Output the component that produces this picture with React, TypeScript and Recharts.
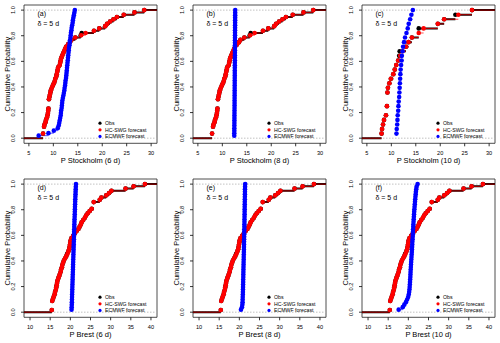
import React from "react";
import {
  ComposedChart,
  Line,
  Scatter,
  XAxis,
  YAxis,
  ReferenceLine,
  ReferenceArea,
} from "recharts";

const FONT = '"Liberation Sans", Arial, Helvetica, sans-serif';

const panelIds = ["(a)", "(b)", "(c)", "(d)", "(e)", "(f)"];
const xTitles = [
  "P Stockholm (6 d)",
  "P Stockholm (8 d)",
  "P Stockholm (10 d)",
  "P Brest (6 d)",
  "P Brest (8 d)",
  "P Brest (10 d)",
];
const deltaLabel = "δ = 5 d";
const legendNames = ["Obs", "HC-SWG forecast", "ECMWF forecast"];
const stockholmTicks = [5, 10, 15, 20, 25, 30];
const brestTicks = [10, 15, 20, 25, 30, 35, 40];
const probTicks = [0, 0.2, 0.4, 0.6, 0.8, 1];
const stockholmDomain = [4.0, 31.2];
const brestDomain = [8.5, 41.5];

// samples (precipitation, mm)
const hcStockholm = [
  7.9, 7.9, 8.1, 8.1, 8.1, 8.2, 8.4, 8.5, 8.7, 8.8,
  8.9, 8.95, 9.0, 9.1, 9.1, 9.1, 9.1, 9.2, 9.3, 9.4,
  9.5, 9.7, 9.9, 10.1, 10.3, 10.4, 10.6, 10.7, 10.8, 10.9,
  11.0, 11.3, 11.4, 11.5, 11.6, 11.8, 12.0, 12.2, 12.4, 12.6,
  13.0, 13.4, 13.7, 14.5, 15.7, 16.6, 18.3, 19.4, 20.6, 21.0,
  21.6, 22.3, 23.0, 24.4, 26.6, 28.6,
];
const obsStockholm = [
  7.9, 7.9, 8.1, 8.1, 8.1, 8.2, 8.4, 8.5, 8.7, 8.8,
  8.9, 8.95, 9.0, 9.1, 9.1, 9.1, 9.1, 9.2, 9.3, 9.4,
  9.5, 9.7, 9.9, 10.1, 10.3, 10.4, 10.6, 10.7, 10.8, 10.9,
  11.0, 11.3, 11.4, 11.5, 11.6, 11.8, 12.0, 12.2, 12.4, 12.6,
  13.0, 13.4, 13.7, 14.5, 15.6, 15.8, 18.3, 19.4, 20.6, 21.0,
  21.6, 22.3, 23.0, 24.4, 26.6, 28.6,
];
const ecmwfStockholm6 = [
  7.0, 9.0, 10.1, 10.9, 11.1, 11.2, 11.3, 11.4, 11.5, 11.55,
  11.6, 11.7, 11.75, 11.8, 11.85, 11.95, 12.05, 12.15, 12.25, 12.3,
  12.4, 12.45, 12.5, 12.6, 12.65, 12.7, 12.75, 12.8, 12.85, 12.9,
  12.95, 13.0, 13.05, 13.1, 13.15, 13.2, 13.3, 13.35, 13.4, 13.5,
  13.55, 13.6, 13.7, 13.75, 13.85, 13.95, 14.0, 14.1, 14.2, 14.3,
  14.4,
];
const ecmwfStockholm8 = [
  12.44, 12.445, 12.45, 12.455, 12.46, 12.465, 12.47, 12.475, 12.48, 12.485,
  12.49, 12.495, 12.5, 12.503, 12.506, 12.51, 12.513, 12.516, 12.52, 12.523,
  12.526, 12.53, 12.533, 12.536, 12.54, 12.543, 12.546, 12.55, 12.553, 12.556,
  12.56, 12.563, 12.566, 12.57, 12.573, 12.576, 12.58, 12.583, 12.586, 12.59,
  12.593, 12.596, 12.6, 12.604, 12.608, 12.612, 12.616, 12.62, 12.625, 12.63,
  12.64,
];
const hcStockholm10 = [
  8.0, 8.1, 8.3, 8.5, 8.9, 9.1, 9.1, 9.2, 9.2, 9.2,
  9.3, 9.6, 9.9, 10.4, 10.7, 11.0, 11.4, 11.8, 12.3, 13.0,
  13.5, 14.2, 15.6, 16.6, 19.5, 20.8, 23.7, 26.5,
];
const obsStockholm10 = [
  8.0, 8.1, 8.3, 8.5, 8.9, 9.1, 9.1, 9.2, 9.2, 9.2,
  9.3, 9.6, 9.9, 10.4, 10.7, 11.0, 11.4, 11.6, 11.7, 13.0,
  13.5, 14.2, 15.6, 15.6, 19.5, 20.8, 23.1, 26.5,
];
const ecmwfStockholm10 = [
  11.05, 11.1, 11.2, 11.25, 11.3, 11.4, 11.45, 11.5, 11.6, 11.65,
  11.7, 11.75, 11.8, 11.85, 11.9, 12.0, 12.1, 12.15, 12.3, 12.4,
  12.6, 12.8, 13.1, 13.35, 13.55, 13.85, 14.1, 14.4,
];
const hcBrest = [
  15.4, 15.5, 15.5, 15.5, 15.5, 15.7, 15.9, 16.1, 16.2, 16.4,
  16.5, 16.6, 16.7, 16.8, 17.0, 17.2, 17.4, 17.6, 17.7, 17.9,
  18.0, 18.2, 18.4, 18.7, 19.0, 19.3, 19.5, 19.7, 19.8, 19.9,
  20.0, 20.1, 20.3, 20.7, 21.1, 21.5, 22.0, 22.3, 22.6, 22.8,
  23.2, 23.6, 23.9, 24.3, 24.8, 25.3, 25.8, 25.8, 25.8, 27.3,
  27.7, 28.9, 29.6, 30.2, 33.7, 35.7, 38.5,
];
const obsBrest = [
  15.4, 15.5, 15.5, 15.5, 15.5, 15.7, 15.9, 16.1, 16.2, 16.4,
  16.5, 16.6, 16.7, 16.8, 17.0, 17.2, 17.4, 17.6, 17.7, 17.9,
  18.0, 18.2, 18.4, 18.7, 19.0, 19.2, 19.5, 19.7, 19.8, 19.9,
  20.0, 20.1, 20.3, 20.7, 21.1, 21.5, 22.0, 22.3, 22.6, 22.8,
  23.2, 23.6, 23.9, 24.3, 24.8, 25.3, 25.8, 25.8, 25.8, 27.3,
  27.7, 28.9, 29.6, 30.2, 33.7, 35.7, 38.5,
];
const ecmwfBrest6 = [
  20.3, 20.33, 20.36, 20.38, 20.4, 20.42, 20.44, 20.46, 20.48, 20.5,
  20.52, 20.54, 20.56, 20.58, 20.6, 20.62, 20.64, 20.66, 20.68, 20.7,
  20.72, 20.74, 20.76, 20.78, 20.8, 20.82, 20.84, 20.86, 20.88, 20.9,
  20.92, 20.94, 20.96, 20.98, 21.0, 21.02, 21.04, 21.07, 21.09, 21.11,
  21.13, 21.15, 21.18, 21.2, 21.22, 21.25, 21.28, 21.3, 21.33, 21.36,
  21.4,
];
const ecmwfBrest8 = [
  20.4, 20.65, 20.75, 20.8, 20.82, 20.84, 20.86, 20.88, 20.9, 20.92,
  20.93, 20.95, 20.96, 20.98, 20.99, 21.0, 21.02, 21.03, 21.05, 21.06,
  21.08, 21.09, 21.1, 21.12, 21.13, 21.14, 21.16, 21.17, 21.18, 21.2,
  21.21, 21.22, 21.23, 21.25, 21.26, 21.27, 21.28, 21.29, 21.3, 21.31,
  21.32, 21.33, 21.34, 21.35, 21.36, 21.37, 21.38, 21.39, 21.4, 21.42,
  21.45,
];
const ecmwfBrest10 = [
  17.6, 18.6, 19.0, 19.4, 19.7, 19.95, 20.1, 20.2, 20.28, 20.33,
  20.37, 20.41, 20.45, 20.49, 20.52, 20.55, 20.58, 20.62, 20.66, 20.7,
  20.74, 20.78, 20.82, 20.86, 20.9, 20.93, 20.97, 21.0, 21.04, 21.08,
  21.11, 21.15, 21.18, 21.22, 21.25, 21.29, 21.33, 21.37, 21.41, 21.45,
  21.5, 21.55, 21.6, 21.65, 21.7, 21.76, 21.82, 21.88, 21.96, 22.05,
  22.3,
];

const OBS = "#000000";
const HC = "#ff0000";
const EC = "#0000ff";
const legendColors = [OBS, HC, EC];

const panels = [
  { id: panelIds[0], title: xTitles[0], obs: obsStockholm, hc: hcStockholm, ec: ecmwfStockholm6, ticks: stockholmTicks, domain: stockholmDomain },
  { id: panelIds[1], title: xTitles[1], obs: obsStockholm, hc: hcStockholm, ec: ecmwfStockholm8, ticks: stockholmTicks, domain: stockholmDomain },
  { id: panelIds[2], title: xTitles[2], obs: obsStockholm10, hc: hcStockholm10, ec: ecmwfStockholm10, ticks: stockholmTicks, domain: stockholmDomain },
  { id: panelIds[3], title: xTitles[3], obs: obsBrest, hc: hcBrest, ec: ecmwfBrest6, ticks: brestTicks, domain: brestDomain },
  { id: panelIds[4], title: xTitles[4], obs: obsBrest, hc: hcBrest, ec: ecmwfBrest8, ticks: brestTicks, domain: brestDomain },
  { id: panelIds[5], title: xTitles[5], obs: obsBrest, hc: hcBrest, ec: ecmwfBrest10, ticks: brestTicks, domain: brestDomain },
];

// panel geometry
const W = 169;
const H = 172;
const ROW_GAP = 174;
const PLOT_LEFT = 24;
const PLOT_TOP = 5;
const PLOT_W = 133;
const PLOT_H = 138.3;

type Pt = { x: number; y: number | null };

// empirical CDF: one point per distinct value, at F(x)
function ecdf(values: number[]): Pt[] {
  const sorted = [...values].sort((a, b) => a - b);
  const n = sorted.length;
  const pts: Pt[] = [];
  sorted.forEach((v, i) => {
    if (i < n - 1 && sorted[i + 1] === v) return;
    pts.push({ x: v, y: (i + 1) / n });
  });
  return pts;
}

// horizontal ECDF segments, separated by null gaps
function steps(pts: Pt[], xMin: number, xMax: number, extend: boolean): Pt[] {
  const out: Pt[] = [];
  if (extend) out.push({ x: xMin, y: 0 }, { x: pts[0].x, y: 0 }, { x: pts[0].x, y: null });
  pts.forEach((p, k) => {
    const next = k < pts.length - 1 ? pts[k + 1].x : extend ? xMax : null;
    if (next === null) return;
    out.push({ x: p.x, y: p.y }, { x: next, y: p.y }, { x: next, y: null });
  });
  return out;
}

const dot = (color: string) => (props: any) =>
  <circle cx={props.cx} cy={props.cy} r={2.3} fill={color} />;

const XTick = (props: any) => {
  const { x, y, payload } = props;
  return (
    <text x={x} y={y} dy={6.5} textAnchor="middle" fontSize={5.6} fontFamily={FONT} fill="#000">
      {payload.value}
    </text>
  );
};

const YTick = (props: any) => {
  const { x, y, payload } = props;
  return (
    <text transform={`translate(${x},${y}) rotate(-90)`} textAnchor="middle" fontSize={5.6} fontFamily={FONT} fill="#000">
      {Number(payload.value).toFixed(1)}
    </text>
  );
};

const YTitle = () => (
  <text
    transform={`translate(9.7,${PLOT_TOP + PLOT_H / 2}) rotate(-90)`}
    textAnchor="middle"
    fontSize={7.5}
    fontFamily={FONT}
    fill="#000"
  >
    Cumulative Probability
  </text>
);

function Panel({ p, left, top }: { p: (typeof panels)[number]; left: number; top: number }) {
  const [x0, x1] = p.domain;
  const obsPts = ecdf(p.obs);
  const hcPts = ecdf(p.hc);
  const ecPts = ecdf(p.ec);
  const legendY = [123.2, 129.8, 136.4];

  return (
    <div style={{ position: "absolute", left, top, width: W, height: H }}>
      <ComposedChart width={W} height={H} margin={{ top: PLOT_TOP, right: W - PLOT_LEFT - PLOT_W, bottom: 0, left: 0 }}>
        <XAxis
          dataKey="x"
          type="number"
          domain={[x0, x1]}
          allowDataOverflow
          ticks={p.ticks}
          interval={0}
          axisLine={false}
          tickSize={3}
          tickMargin={2}
          tickLine={{ stroke: "#000", strokeWidth: 0.8 }}
          tick={<XTick />}
          height={H - PLOT_TOP - PLOT_H}
          label={{ value: p.title, position: "insideBottom", offset: 9.3, fontSize: 7.5, fill: "#000", fontFamily: FONT }}
        />
        <YAxis
          dataKey="y"
          type="number"
          domain={[-0.04, 1.04]}
          allowDataOverflow
          ticks={probTicks}
          interval={0}
          axisLine={false}
          tickSize={3}
          tickMargin={5.6}
          tickLine={{ stroke: "#000", strokeWidth: 0.8 }}
          tick={<YTick />}
          width={PLOT_LEFT}
          label={<YTitle />}
        />
        <ReferenceLine y={0} stroke="#b3b3b3" strokeDasharray="1.5 1.5" strokeWidth={0.8} />
        <ReferenceLine y={1} stroke="#b3b3b3" strokeDasharray="1.5 1.5" strokeWidth={0.8} />

        <Line data={steps(obsPts, x0, x1, true)} dataKey="y" stroke={OBS} strokeWidth={2} dot={false} activeDot={false} connectNulls={false} isAnimationActive={false} />
        <Scatter data={obsPts} shape={dot(OBS)} isAnimationActive={false} />

        <Line data={steps(hcPts, x0, x1, true)} dataKey="y" stroke={HC} strokeWidth={0.7} dot={false} activeDot={false} connectNulls={false} isAnimationActive={false} />
        <Scatter data={hcPts} shape={dot(HC)} isAnimationActive={false} />

        <Line data={steps(ecPts, x0, x1, false)} dataKey="y" stroke={EC} strokeWidth={0.7} dot={false} activeDot={false} connectNulls={false} isAnimationActive={false} />
        <Scatter data={ecPts} shape={dot(EC)} isAnimationActive={false} />

        <ReferenceArea x1={x0} x2={x1} y1={-0.04} y2={1.04} fill="none" fillOpacity={0} stroke="#222" strokeWidth={0.8} ifOverflow="visible" />
      </ComposedChart>

      <svg width={W} height={H} style={{ position: "absolute", left: 0, top: 0, pointerEvents: "none" }}>
        <text x={37.5} y={16.3} fontSize={7} fontFamily={FONT} fill="#000">{p.id}</text>
        <text x={37.5} y={25.8} fontSize={7} fontFamily={FONT} fill="#000">{deltaLabel}</text>
        {legendNames.map((name, i) => (
          <g key={name}>
            <circle cx={PLOT_LEFT + 76} cy={legendY[i]} r={1.6} fill={legendColors[i]} />
            <text x={PLOT_LEFT + 81} y={legendY[i] + 1.85} fontSize={5.2} fontFamily={FONT} fill="#000">{name}</text>
          </g>
        ))}
      </svg>
    </div>
  );
}

export default function App() {
  return (
    <div style={{ position: "absolute", left: 0, top: 0, width: 500, height: 343, background: "#fff", overflow: "hidden" }}>
      {panels.map((p, i) => (
        <Panel key={p.id} p={p} left={(i % 3) * W} top={Math.floor(i / 3) * ROW_GAP} />
      ))}
    </div>
  );
}
